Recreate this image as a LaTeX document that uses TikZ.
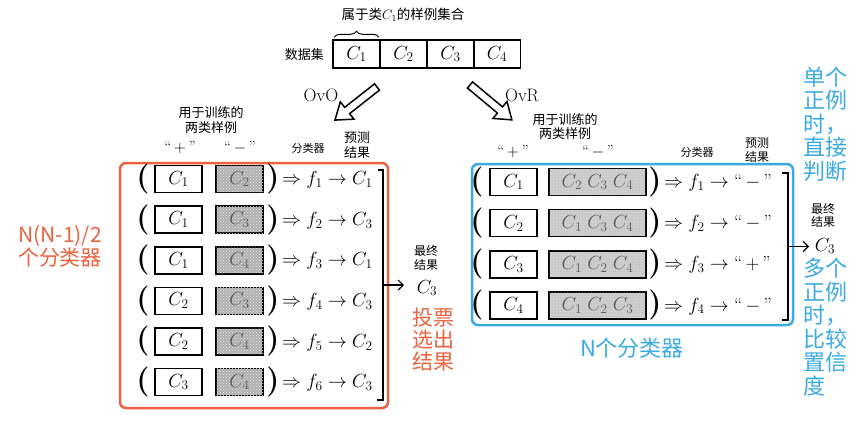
\RequirePackage{fix-cm}
\documentclass[tikz,border=0pt]{standalone}
\usepackage{fontspec}
\newfontfamily\cjk{Noto Sans CJK SC}
\usetikzlibrary{arrows.meta,decorations.pathreplacing,patterns,calc}
\definecolor{ored}{RGB}{234,98,62}
\definecolor{lblue}{RGB}{58,170,226}
\newcommand{\fsz}[2]{\fontsize{#1}{#2}\selectfont}
\tikzset{
  cbox/.style={draw, line width=1.6pt, minimum height=27pt, inner sep=0pt, font=\fsz{19}{19}},
  wbox/.style={cbox, minimum width=47pt, fill=white},
  dbox/.style={cbox, minimum width=47pt, fill=gray!62, text=black!65,
     postaction={pattern=crosshatch dots, pattern color=white!80!gray}},
  lbox/.style={cbox, minimum width=97pt, fill=gray!38, text=black!65,
     postaction={pattern=dots, pattern color=gray!75}},
  dcell/.style={draw, line width=1.5pt, minimum width=47pt, minimum height=28pt, inner sep=0pt, font=\fsz{19}{19}},
  paren/.style={inner sep=0pt, font=\fsz{30}{30}\bfseries},
  rtext/.style={anchor=west, inner sep=0pt, font=\fsz{19}{19}},
  lab/.style={inner sep=0pt, align=center, font=\cjk\fsz{12}{15}},
  qt/.style={inner sep=0pt, font=\fsz{16}{16}},
  hollow/.style={draw, line width=1.5pt, fill=white, line join=miter},
  brk/.style={line width=1.2pt},
  arr/.style={line width=1.2pt, -{Straight Barb[length=5pt,width=10pt]}},
  oann/.style={inner sep=0pt, align=center, text=ored, font=\cjk\fsz{21}{23}},
  bann/.style={inner sep=0pt, align=left, text=lblue, font=\cjk\fsz{22}{23.5}},
  redbox/.style={draw=ored, line width=2.5pt, rounded corners=6pt},
  bluebox/.style={draw=lblue, line width=2.5pt, rounded corners=6pt}
}
\begin{document}
\begin{tikzpicture}[x=1pt,y=-1pt]
\useasboundingbox (0,0) rectangle (868,424);

% ---------- top: data set ----------
\node[inner sep=0pt, font=\cjk\fsz{13.5}{14}] (title) at (403,15) {属于类$C_1$的样例集合};
\node[dcell] (d1) at (356.5,54) {$C_1$};
\node[dcell] (d2) at (403.5,54) {$C_2$};
\node[dcell] (d3) at (450.5,54) {$C_3$};
\node[dcell] (d4) at (497,54) {$C_4$};
\draw[decorate, decoration={brace, amplitude=6pt}, line width=1pt] (d1.north west) ++(2,-2) coordinate (bra) -- ($(d1.north east)+(-2,-2)$) coordinate (brb);
\node[inner sep=0pt, font=\cjk\fsz{13}{13}, anchor=east] (dset) at (324,55) {数据集};

% ---------- hollow arrows ----------
\coordinate (ovos) at (377,87);
\coordinate (ovrs) at (470,85);
\draw[hollow, shift={(ovos)}, rotate=218.2] (0,-4) -- (38,-4) -- (38,-11) -- (53.5,0) -- (38,11) -- (38,4) -- (0,4) -- cycle;
\draw[hollow, shift={(ovrs)}, rotate=-39.8] (0,-4) -- (39,-4) -- (39,-11) -- (54.5,0) -- (39,11) -- (39,4) -- (0,4) -- cycle;
\node[inner sep=0pt, font=\fsz{18}{18}] (ovo) at (321,95) {OvO};
\node[inner sep=0pt, font=\fsz{18}{18}] (ovr) at (522,95) {OvR};

% ---------- left headers ----------
\node[lab, font=\cjk\fsz{13}{15}] (lh1) at (211,120) {用于训练的\\两类样例};
\node[qt] (lhp) at (180,148) {“\,$+$\,”};
\node[qt] (lhm) at (240,148) {“\,$-$\,”};
\node[lab, font=\cjk\fsz{11}{11}] (lhc) at (308,148) {分类器};
\node[lab, font=\cjk\fsz{13}{15}] (lhr) at (357,145) {预测\\结果};

% ---------- boxes ----------
\draw[redbox] (120,163) rectangle (388,408);
\draw[bluebox] (472,164) rectangle (793,325);

% ---------- left rows ----------
\foreach \i/\a/\b/\r in {1/1/2/1, 2/1/3/3, 3/1/4/1, 4/2/3/3, 5/2/4/2, 6/3/4/3} {
  \pgfmathsetmacro\yy{179+40.6*(\i-1)}
  \node[paren] (lo\i) at (143,\yy) {(};
  \node[wbox] (la\i) at (178.5,\yy) {$C_{\a}$};
  \node[dbox] (lb\i) at (239.5,\yy) {$C_{\b}$};
  \node[paren] (lc\i) at (273,\yy) {)};
  \node[rtext] (lr\i) at (282,\yy+1) {$\Rightarrow f_{\i}\rightarrow C_{\r}$};
}
\coordinate (lbt) at (383,170);
\coordinate (lbb) at (383,400);
\draw[brk] ($(lbt)+(-5,0)$) -- (lbt) -- (lbb) -- ($(lbb)+(-6,0)$);
\coordinate (lbm) at ($(lbt)!0.5!(lbb)$);
\coordinate (lae) at (404,285);
\draw[arr] (lbm) -- (lae);
\node[lab, font=\cjk\fsz{12}{14}] (lfr) at (426,258) {最终\\结果};
\node[inner sep=0pt, font=\fsz{19}{19}] (lfin) at (427,288) {$C_3$};

% ---------- right headers ----------
\node[lab, font=\cjk\fsz{13}{14}] (rh1) at (565,127) {用于训练的\\两类样例};
\node[qt] (rhp) at (513,152) {“\,$+$\,”};
\node[qt] (rhm) at (598,152) {“\,$-$\,”};
\node[lab, font=\cjk\fsz{11}{11}] (rhc) at (697,152) {分类器};
\node[lab, font=\cjk\fsz{12}{14}] (rhr) at (757,150) {预测\\结果};

% ---------- right rows ----------
\foreach \i/\a/\b/\s in {1/1/{C_2\;C_3\;C_4}/-, 2/2/{C_1\;C_3\;C_4}/-, 3/3/{C_1\;C_2\;C_4}/+, 4/4/{C_1\;C_2\;C_3}/-} {
  \pgfmathsetmacro\yy{182+41.1*(\i-1)}
  \node[paren] (ro\i) at (477,\yy) {(};
  \node[wbox] (ra\i) at (513.5,\yy) {$C_{\a}$};
  \node[lbox] (rb\i) at (597.5,\yy) {$\b$};
  \node[paren] (rc\i) at (655,\yy) {)};
  \node[rtext] (rr\i) at (664,\yy+1) {$\Rightarrow f_{\i}\rightarrow{}$“\,$\s$\,”};
}
\coordinate (rbt) at (788,173);
\coordinate (rbb) at (788,320);
\draw[brk] ($(rbt)+(-6,0)$) -- (rbt) -- (rbb) -- ($(rbb)+(-6,0)$);
\coordinate (rbm) at ($(rbt)!0.5!(rbb)$);
\coordinate (rae) at (809,246.5);
\draw[arr] (rbm) -- (rae);
\node[lab, font=\cjk\fsz{12}{13}] (rfr) at (823,215) {最终\\结果};
\node[inner sep=0pt, font=\fsz{19}{19}] (rfin) at (825,246) {$C_3$};

% ---------- annotations ----------
\node[oann] (nn) at (60,246) {N(N-1)/2\\个分类器};
\node[oann, font=\cjk\fsz{21}{22}] (vote) at (433,340) {投票\\选出\\结果};
\node[bann, anchor=west] (single) at (803,124) {单个\\正例\\时，\\直接\\判断};
\node[bann, anchor=west] (multi) at (803,327) {多个\\正例\\时，\\比较\\置信\\度};
\node[inner sep=0pt, text=lblue, font=\cjk\fsz{22}{22}] (nc) at (632,348) {N个分类器};
\end{tikzpicture}
\end{document}
